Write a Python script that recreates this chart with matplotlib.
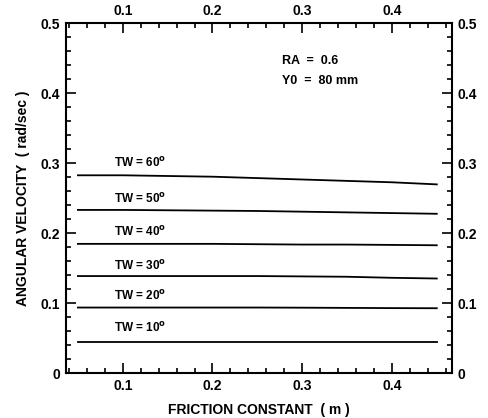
import numpy as np
import matplotlib
matplotlib.use("Agg")
import matplotlib.pyplot as plt
from matplotlib.ticker import MultipleLocator, FuncFormatter

plt.rcParams['font.family'] = ['Liberation Sans', 'DejaVu Sans']
plt.rcParams['font.weight'] = 'bold'

# friction constant (m)
friction = [0.05, 0.10, 0.15, 0.20, 0.25, 0.30, 0.35, 0.40, 0.45]

# angular velocity (rad/sec) per TW angle
tw_angles = [10, 20, 30, 40, 50, 60]
omega_tw10 = [0.045, 0.045, 0.045, 0.045, 0.045, 0.045, 0.045, 0.045, 0.045]
omega_tw20 = [0.094, 0.094, 0.094, 0.094, 0.094, 0.0938, 0.0935, 0.0932, 0.093]
omega_tw30 = [0.139, 0.139, 0.139, 0.139, 0.139, 0.1385, 0.138, 0.1365, 0.1355]
omega_tw40 = [0.185, 0.185, 0.185, 0.185, 0.1845, 0.184, 0.184, 0.1835, 0.183]
omega_tw50 = [0.2335, 0.2335, 0.233, 0.2325, 0.232, 0.231, 0.230, 0.229, 0.228]
omega_tw60 = [0.283, 0.283, 0.282, 0.281, 0.279, 0.277, 0.275, 0.273, 0.270]
series = [omega_tw10, omega_tw20, omega_tw30, omega_tw40, omega_tw50, omega_tw60]

label_y = [0.0645, 0.111, 0.154, 0.202, 0.2497, 0.301]

fig = plt.figure(figsize=(4.89, 4.18), dpi=100)
ax = fig.add_axes([0.1344, 0.1069, 0.790, 0.837])

for tw, vals, ly in zip(tw_angles, series, label_y):
    ax.plot(friction, vals, color='black', lw=1.3)
    ax.text(0.0905, ly, f"TW = {tw}" + r"$^{\mathbf{o}}$", fontsize=8.5,
            fontweight='bold', ha='left', va='center')

ax.text(0.278, 0.447, "RA  =  0.6", fontsize=9, fontweight='bold', va='center')
ax.text(0.278, 0.418, "Y0  =  80 mm", fontsize=9, fontweight='bold', va='center')

ax.set_xlim(0.0364, 0.467)
ax.set_ylim(0, 0.5)

ax.xaxis.set_major_locator(MultipleLocator(0.1))
ax.xaxis.set_minor_locator(MultipleLocator(0.02))
ax.yaxis.set_major_locator(MultipleLocator(0.1))
ax.yaxis.set_minor_locator(MultipleLocator(0.02))

fmt = FuncFormatter(lambda v, p: "0" if abs(v) < 1e-9 else f"{v:.1f}")
ax.xaxis.set_major_formatter(fmt)
ax.yaxis.set_major_formatter(fmt)

ax.tick_params(which='both', direction='in', top=True, right=True,
               labeltop=True, labelright=True, width=1.2)
ax.tick_params(which='major', length=7, labelsize=10, pad=4)
ax.tick_params(which='minor', length=3.5)
for lab in ax.get_xticklabels() + ax.get_yticklabels():
    lab.set_fontweight('bold')

for sp in ax.spines.values():
    sp.set_linewidth(1.5)

ax.set_xlabel("FRICTION CONSTANT  ( m )", fontsize=10, fontweight='bold', labelpad=7)
ax.set_ylabel("ANGULAR VELOCITY  ( rad/sec )", fontsize=10, fontweight='bold', labelpad=8)

fig.savefig("out.png", dpi=100)
